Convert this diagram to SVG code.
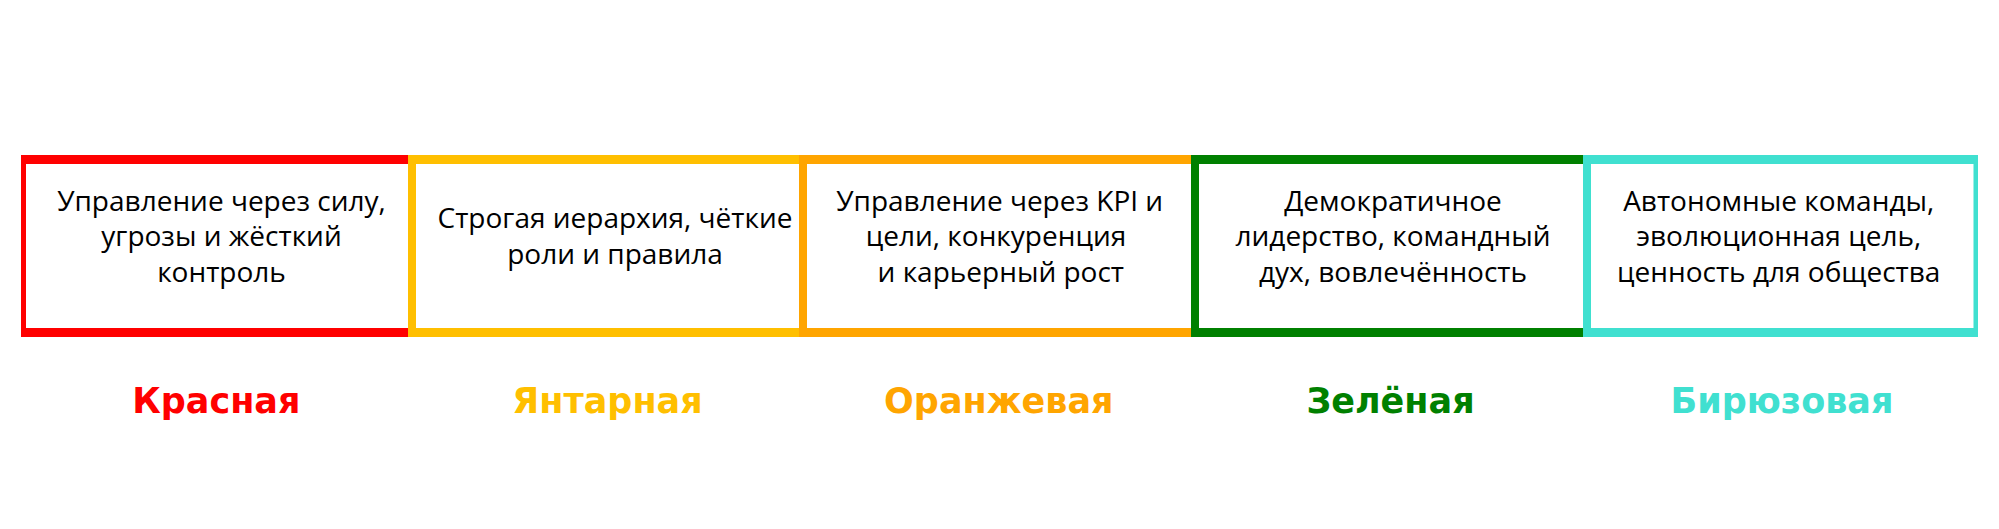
<svg xmlns="http://www.w3.org/2000/svg" width="1999" height="529" viewBox="0 0 1999 529">
<style>
.body{font-family:"Open Sans","Noto Sans","DejaVu Sans",sans-serif;font-size:28px;fill:#000;text-anchor:middle}
.lbl{font-family:"DejaVu Sans","Liberation Sans",sans-serif;font-weight:bold;font-size:35px;text-anchor:middle}
.frame{fill-rule:evenodd}
</style>
<rect x="0" y="0" width="1999" height="529" fill="#fff"/>
<g id="red">
<path class="frame" fill="#FF0000" d="M21 155H416V337H21Z M26 164V328H408V164Z"/>
<text class="body" x="221.5" y="210.7">Управление через силу,</text>
<text class="body" x="221.5" y="246.2">угрозы и жёсткий</text>
<text class="body" x="221.5" y="281.7">контроль</text>
<text class="lbl" fill="#FF0000" x="216.3" y="413.3">Красная</text>
</g>
<g id="amber">
<path class="frame" fill="#FFBF00" d="M408 155H807V337H408Z M416 164V328H799V164Z"/>
<text class="body" x="615" y="228.3">Строгая иерархия, чёткие</text>
<text class="body" x="615" y="263.8">роли и правила</text>
<text class="lbl" fill="#FFBF00" x="607.5" y="413.3">Янтарная</text>
</g>
<g id="orange">
<path class="frame" fill="#FFA500" d="M799 155H1199V337H799Z M807 164V328H1191V164Z"/>
<text class="body" x="999.7" y="210.7">Управление через KPI и</text>
<text class="body" x="996" y="246.2">цели, конкуренция</text>
<text class="body" x="1000.8" y="281.7">и карьерный рост</text>
<text class="lbl" fill="#FFA500" x="998.8" y="413.3">Оранжевая</text>
</g>
<g id="green">
<path class="frame" fill="#008000" d="M1191 155H1591V337H1191Z M1199 164V328H1583V164Z"/>
<text class="body" x="1393" y="210.7">Демократичное</text>
<text class="body" x="1393" y="246.2">лидерство, командный</text>
<text class="body" x="1393" y="281.7">дух, вовлечённость</text>
<text class="lbl" fill="#008000" x="1390.5" y="413.3">Зелёная</text>
</g>
<g id="teal">
<path class="frame" fill="#40E0D0" d="M1583 155H1978V337H1583Z M1591 164V328H1973.5V164Z"/>
<text class="body" x="1778.7" y="210.7">Автономные команды,</text>
<text class="body" x="1778.7" y="246.2">эволюционная цель,</text>
<text class="body" x="1778.7" y="281.7">ценность для общества</text>
<text class="lbl" fill="#40E0D0" x="1782" y="413.3">Бирюзовая</text>
</g>
<g id="connectors"></g>
</svg>
